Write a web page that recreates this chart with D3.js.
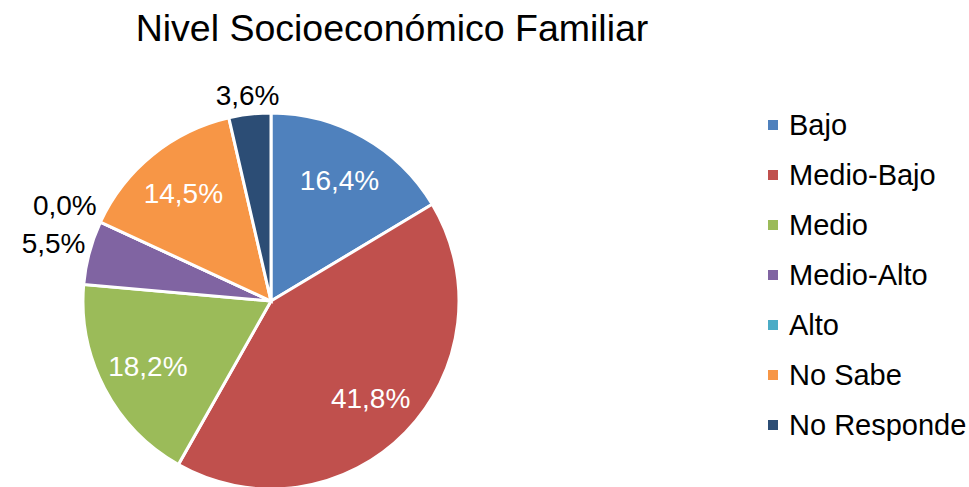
<!DOCTYPE html>
<html>
<head>
<meta charset="utf-8">
<script src="https://cdn.jsdelivr.net/npm/d3@7"></script>
<style>
  body { margin: 0; background: #fff; }
  text { font-family: "Liberation Sans", Arial, sans-serif; }
</style>
</head>
<body>
<div id="chart"></div>
<script>
var categories = ["Bajo", "Medio-Bajo", "Medio", "Medio-Alto", "Alto", "No Sabe", "No Responde"];
var values = [16.4, 41.8, 18.2, 5.5, 0.0, 14.5, 3.6];
var labels = ["16,4%", "41,8%", "18,2%", "5,5%", "0,0%", "14,5%", "3,6%"];
var colors = ["#4F81BD", "#C0504D", "#9BBB59", "#8064A2", "#4BACC6", "#F79646", "#2C4D75"];

var width = 969, height = 487;
var cx = 271, cy = 301, radius = 188;

var svg = d3.select("#chart").append("svg")
    .attr("width", width)
    .attr("height", height);

svg.append("text")
    .attr("x", 392)
    .attr("y", 41)
    .attr("text-anchor", "middle")
    .style("font-size", "37.5px")
    .text("Nivel Socioeconómico Familiar");

var pie = d3.pie().sort(null).value(function(d) { return d; });
var arc = d3.arc().innerRadius(0).outerRadius(radius);
var arcs = pie(values);

var g = svg.append("g")
    .attr("transform", "translate(" + cx + "," + cy + ")");

g.selectAll(".slice")
    .data(arcs)
  .enter().append("path")
    .attr("class", "slice")
    .attr("d", arc)
    .attr("fill", function(d, i) { return colors[i]; })
    .attr("stroke", "#fff")
    .attr("stroke-width", 3);

// labels: big slices inside in white, small ones outside in black
g.selectAll(".lbl")
    .data(arcs)
  .enter().append("text")
    .attr("class", "lbl")
    .style("font-size", "28px")
    .attr("text-anchor", "middle")
    .attr("dy", "0.35em")
    .attr("fill", function(d) { return d.value >= 10 ? "#fff" : "#000"; })
    .text(function(d, i) { return labels[i]; })
    .attr("transform", function(d) {
      var a = (d.startAngle + d.endAngle) / 2;
      var s = Math.sin(a), c = Math.cos(a);
      var r;
      if (d.value >= 10) {
        r = radius * 0.74;
      } else {
        var bb = this.getBBox();
        var ext = Math.min(bb.width / 2 / Math.max(Math.abs(s), 1e-6), bb.height / 2 / Math.max(Math.abs(c), 1e-6));
        r = radius + 4 + ext;
      }
      return "translate(" + (r * s) + "," + (-r * c) + ")";
    });

var legend = svg.append("g")
    .attr("transform", "translate(768,125)");

var item = legend.selectAll(".item")
    .data(categories)
  .enter().append("g")
    .attr("class", "item")
    .attr("transform", function(d, i) { return "translate(0," + (i * 50) + ")"; });

item.append("rect")
    .attr("x", 0)
    .attr("y", -5)
    .attr("width", 10)
    .attr("height", 10)
    .attr("fill", function(d, i) { return colors[i]; });

item.append("text")
    .attr("x", 21)
    .attr("dy", "0.35em")
    .style("font-size", "29px")
    .text(function(d) { return d; });
</script>
</body>
</html>
